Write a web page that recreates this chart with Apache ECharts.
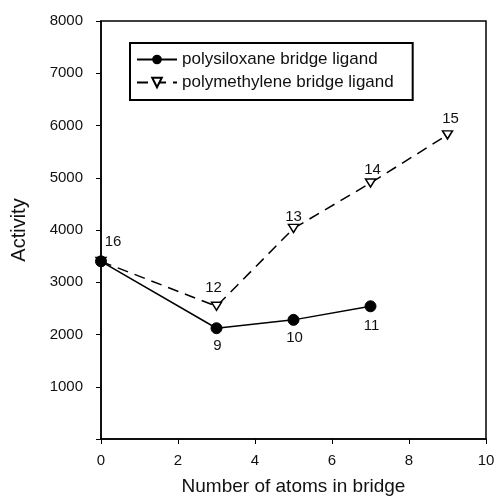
<!DOCTYPE html>
<html>
<head>
<meta charset="utf-8">
<script src="https://cdn.jsdelivr.net/npm/echarts@6/dist/echarts.min.js"></script>
<style>
  html, body { margin: 0; padding: 0; background: #fff; }
  #chart { width: 498px; height: 497px; }
</style>
</head>
<body>
<div id="chart"></div>
<script>
// polysiloxane bridge ligand
const siloxaneX = [0, 3, 5, 7];
const siloxaneY = [3400, 2120, 2280, 2540];
const siloxaneLabels = ["16", "9", "10", "11"];
// polymethylene bridge ligand
const methyleneX = [0, 3, 5, 7, 9];
const methyleneY = [3400, 2540, 4030, 4900, 5820];
const methyleneLabels = ["", "12", "13", "14", "15"];

const font = "Liberation Sans, Arial, sans-serif";

// label placement per point: [position, distance, x offset]
const siloxanePos = [["top", 6, 12], ["bottom", 4, 1], ["bottom", 4, 1], ["bottom", 6, 1]];
const methylenePos = [["top", 5, 0], ["top", 6, -3], ["top", -1, 0], ["top", 1, 2], ["top", 4, 3]];

function pairs(xs, ys, labels, pos) {
  return xs.map((x, i) => ({
    value: [x, ys[i]],
    label: {
      show: labels[i] !== "",
      formatter: labels[i],
      position: pos[i][0],
      distance: pos[i][1],
      offset: [pos[i][2], 0]
    }
  }));
}

const chart = echarts.init(document.getElementById("chart"));
const option = {
  animation: false,
  grid: {
    left: 101, right: 12, top: 21, bottom: 58,
    outerBoundsMode: "none",
    show: true, borderColor: "#000", borderWidth: 1.5
  },
  legend: {
    left: 130, top: 43,
    orient: "vertical",
    borderColor: "#000", borderWidth: 2,
    padding: [8, 19, 9, 6],
    itemWidth: 40, itemHeight: 12, itemGap: 6,
    textStyle: { fontFamily: font, fontSize: 17, lineHeight: 17, color: "#111" },
    data: ["polysiloxane bridge ligand", "polymethylene bridge ligand"]
  },
  xAxis: {
    type: "value", min: 0, max: 10, interval: 2,
    name: "Number of atoms in bridge",
    nameLocation: "middle", nameGap: 38,
    nameTextStyle: { fontFamily: font, fontSize: 19, color: "#111" },
    axisLine: { lineStyle: { color: "#000", width: 1.5 } },
    axisTick: { inside: false, length: 5, lineStyle: { color: "#000" } },
    axisLabel: { fontFamily: font, fontSize: 15, color: "#111", margin: 14 },
    splitLine: { show: false }
  },
  yAxis: {
    type: "value", min: 0, max: 8000, interval: 1000,
    name: "Activity",
    nameLocation: "middle", nameGap: 72,
    nameTextStyle: { fontFamily: font, fontSize: 20, color: "#111" },
    axisLine: { show: true, lineStyle: { color: "#000", width: 1.5 } },
    axisTick: { show: true, inside: false, length: 5, lineStyle: { color: "#000" } },
    axisLabel: {
      fontFamily: font, fontSize: 15, color: "#111", margin: 18,
      formatter: v => (v === 0 ? "" : String(v))
    },
    splitLine: { show: false }
  },
  series: [
    {
      name: "polymethylene bridge ligand",
      type: "line",
      data: pairs(methyleneX, methyleneY, methyleneLabels, methylenePos),
      symbol: "triangle",
      symbolRotate: 180,
      symbolSize: [10, 8],
      itemStyle: { color: "#fff", borderColor: "#000", borderWidth: 1.5 },
      lineStyle: { color: "#000", width: 1.5, type: [11, 7] },
      label: { fontFamily: font, fontSize: 15, color: "#111" }
    },
    {
      name: "polysiloxane bridge ligand",
      type: "line",
      data: pairs(siloxaneX, siloxaneY, siloxaneLabels, siloxanePos),
      symbol: "circle",
      symbolSize: 11,
      itemStyle: { color: "#000", borderColor: "#000" },
      lineStyle: { color: "#000", width: 1.5 },
      label: { fontFamily: font, fontSize: 15, color: "#111" },
      z: 3
    }
  ]
};
chart.setOption(option);
</script>
</body>
</html>
